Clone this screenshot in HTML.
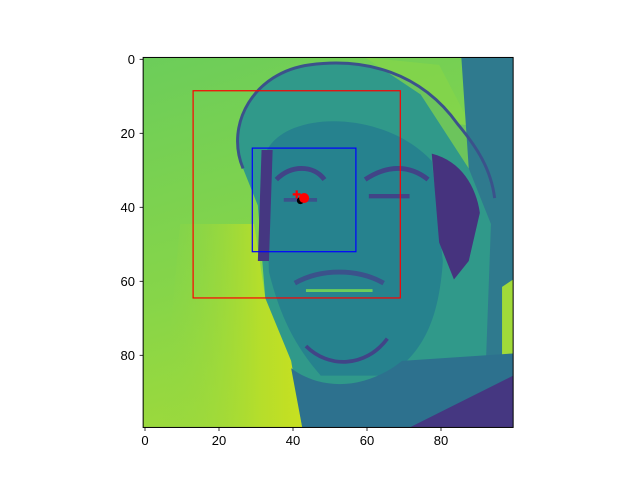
<!DOCTYPE html>
<html><head><meta charset="utf-8"><style>
html,body{margin:0;padding:0;background:#fff;}
svg text{font-family:"Liberation Sans","DejaVu Sans",sans-serif;font-size:13px;fill:#000;}
</style></head><body>
<svg id="chart" width="640" height="480" viewBox="0 0 640 480">
<defs>
<clipPath id="imgclip"><rect x="143.15" y="57.45" width="370" height="370"/></clipPath>
<linearGradient id="bgGrad" x1="0" y1="0" x2="0.3" y2="1">
<stop offset="0" stop-color="#6ccd5a"/><stop offset="0.6" stop-color="#86d549"/><stop offset="1" stop-color="#9fda3a"/></linearGradient>
<linearGradient id="yelGrad" x1="0" y1="0" x2="1" y2="0">
<stop offset="0" stop-color="#8ed645" stop-opacity="0"/><stop offset="0.7" stop-color="#b5de2b"/><stop offset="1" stop-color="#c8e020"/></linearGradient>
</defs>
<g clip-path="url(#imgclip)">
<g transform="translate(143.15,57.45) scale(3.7)">
<rect x="0" y="0" width="100" height="100" fill="url(#bgGrad)"/>
<path d="M10,45 L30,45 L33,65 L40,82 L43,100 L5,100 Z" fill="url(#yelGrad)"/>
<path d="M27,30 C22,18 30,4 45,2 C60,0 75,4 85,18 L100,20 L100,100 L43,100 L40,82 L33,65 L31,40 Z" fill="#30998a"/>
<path d="M60,0 L80,2 L92,25 L96,35 L88,30 L75,10 Z" fill="#86d549" opacity="0.7"/>
<path d="M86,0 L100,0 L100,100 L92,100 L94,45 L88,30 Z" fill="#2f7a8e"/>
<path d="M97,62 L100,60 L100,85 L97,82 Z" fill="#a0da39"/>
<path d="M27,30 C22,18 30,4 45,2 C60,0 75,4 85,18 C90,24 94,30 95,38" stroke="#3b528b" stroke-width="0.8" fill="none"/>
<path d="M33,26 C38,14 65,14 78,28 L81,55 C80,70 76,80 66,86 L48,86 C41,78 37,70 34,58 Z" fill="#26828e"/>
<path d="M78,26 C86,28 90,35 91,42 L88,55 L84,60 L80,50 Z" fill="#46337e"/>
<path d="M40,84 C48,90 60,90 70,82 L100,80 L100,100 L43,100 Z" fill="#2d718e"/>
<path d="M72,100 L100,86 L100,100 Z" fill="#453781"/>
<path d="M32,25 L35,25 L34,55 L31,55 Z" fill="#453781"/>
<path d="M36,33 C40,29 46,29 49,33" stroke="#414487" stroke-width="1.3" fill="none"/>
<path d="M60,33 C66,29 72,29 77,33" stroke="#414487" stroke-width="1.3" fill="none"/>
<path d="M38,38.5 L47,38.5" stroke="#3b528b" stroke-width="1"/>
<path d="M61,37.5 L72,37.5" stroke="#414487" stroke-width="1.2"/>
<path d="M41,61 C48,57 58,57 65,61" stroke="#3b528b" stroke-width="1.3" fill="none"/>
<path d="M44,63 L62,63" stroke="#6ccd5a" stroke-width="0.8"/>
<path d="M44,78 C50,84 60,84 66,76" stroke="#414487" stroke-width="1" fill="none"/>
</g>
</g>
<rect x="143.15" y="57.45" width="370" height="370" fill="none" stroke="#000" stroke-width="1"/>
<g id="overlay"></g>
<g id="xticks"></g>
<g id="yticks"></g>
</svg>
<script>
const xTickValues = [0, 20, 40, 60, 80];
const yTickValues = [0, 20, 40, 60, 80];
const boxNames = ['outer-face-box', 'inner-eye-box'];
const boxX0 = [13, 29];
const boxY0 = [8.5, 24];
const boxX1 = [69, 57];
const boxY1 = [64.5, 52];
const boxColors = ['#ff0000', '#0000ff'];
const dotX = [43];
const dotY = [37.5];
const blackX = [42];
const blackY = [38.2];
const starX = [41];
const starY = [36.5];
const NS = 'http://www.w3.org/2000/svg';
function X(v){return 145 + 3.7*v;}
function Y(v){return 59.3 + 3.7*v;}
function mk(tag, attrs, parent){const e=document.createElementNS(NS,tag);for(const k in attrs)e.setAttribute(k,attrs[k]);parent.appendChild(e);return e;}
const ov=document.getElementById('overlay');
for(let i=0;i<boxNames.length;i++){
  const r=mk('rect',{x:X(boxX0[i]),y:Y(boxY0[i]),width:X(boxX1[i])-X(boxX0[i]),height:Y(boxY1[i])-Y(boxY0[i]),fill:'none',stroke:boxColors[i],'stroke-width':1.2},ov);
  
  
}
for(let i=0;i<blackX.length;i++){
  const c=mk('circle',{cx:X(blackX[i]),cy:Y(blackY[i]),r:3.5,fill:'#000'},ov);
  
  
}
for(let i=0;i<dotX.length;i++){
  const c=mk('circle',{cx:X(dotX[i]),cy:Y(dotY[i]),r:5,fill:'#ff0000'},ov);
  
  
}
for(let i=0;i<starX.length;i++){
  const p=mk('path',{d:`M${X(starX[i])-4},${Y(starY[i])} h8 M${X(starX[i])},${Y(starY[i])-4} v8`,stroke:'#ff0000','stroke-width':2.2},ov);
  
  
}
const xg=document.getElementById('xticks');
xTickValues.forEach(v=>{
  const l=mk('line',{x1:X(v),x2:X(v),y1:427.5,y2:431,stroke:'#000','stroke-width':0.8},xg);
  
  
  const t=mk('text',{x:X(v),y:445,'text-anchor':'middle'},xg);
  t.textContent=v;
  
  
});
const yg=document.getElementById('yticks');
yTickValues.forEach(v=>{
  const l=mk('line',{x1:139.6,x2:143.15,y1:Y(v),y2:Y(v),stroke:'#000','stroke-width':0.8},yg);
  
  
  const t=mk('text',{x:135,y:Y(v)+4.5,'text-anchor':'end'},yg);
  t.textContent=v;
  
  
});
</script>
</body></html>
